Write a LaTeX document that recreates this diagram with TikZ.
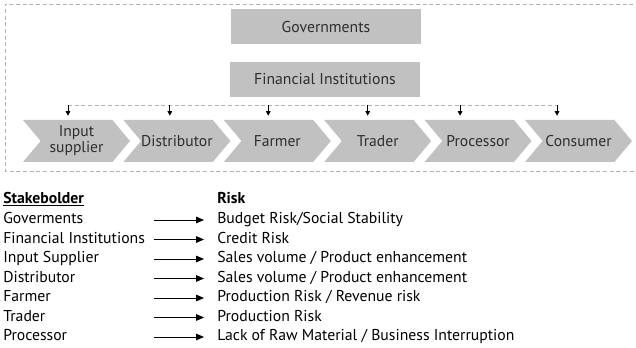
\documentclass[tikz,border=0pt]{standalone}
\usepackage{fontspec}
\setmainfont{PT Sans}
\usepackage{xcolor}
\usetikzlibrary{arrows.meta,positioning,shapes.symbols}

\definecolor{boxgray}{HTML}{C1C1C1}
\definecolor{linegray}{HTML}{B4B4B4}
\definecolor{textgray}{HTML}{2E2E2E}

\begin{document}
\begin{tikzpicture}[
  x=0.75pt,y=-0.75pt,
  on grid,
  font=\fontsize{11.8}{13}\selectfont,
  every node/.style={text=textgray},
  box/.style={fill=boxgray,minimum width=142.5pt,minimum height=26.25pt,inner sep=0pt},
  stage/.style={signal,signal from=west,signal to=east,signal pointer angle=100,
    fill=boxgray,minimum width=80.25pt,minimum height=31.5pt,inner sep=0pt,
    align=center,font=\fontsize{11.7}{12}\selectfont},
  dashline/.style={draw=linegray,dash pattern=on 3pt off 2pt,line width=0.6pt},
  drop/.style={-{Triangle[length=3.5pt,width=3.5pt]},line width=0.6pt},
  link/.style={-{Triangle[length=6pt,width=5pt]},line width=0.6pt},
  row/.style={anchor=west,inner sep=0pt,text height=8pt,text depth=2.5pt,text=black},
  head/.style={row,font=\fontsize{11.8}{13}\selectfont\bfseries}]
  \useasboundingbox (0,0) rectangle (636,348);
  % outer dashed frame, open on the right
  \draw[dashline] (640,4) -- (5,4) -- (5,171) -- (640,171);
  % g-governments f-financial institutions
  \node[box] (g) at (326,26.5) {Governments};
  \node[box] (f) [below=39.75pt of g, xshift=-0.75pt] {Financial Institutions};
  % value chain
  \node[stage] (in)  at (76.5,141) {Input\\supplier};
  \node[stage] (dis) [right=75.3pt of in]  {Distributor};
  \node[stage] (far) [right=75.3pt of dis] {Farmer};
  \node[stage] (tra) [right=75.3pt of far] {Trader};
  \node[stage] (pro) [right=75.3pt of tra] {Processor};
  \node[stage] (con) [right=75.3pt of pro] {Consumer};
  % dashed bus with drops onto every stage
  \coordinate (bus) at (0,105);
  \draw[dashline] (68,105) -- (557,105);
  \foreach \s/\dx in {in/-6.4,dis/-5.3,far/-6.8,tra/-7.5,pro/-13.5,con/-16.1}
    \draw[drop] ([xshift=\dx pt]\s.north |- bus) -- ([xshift=\dx pt,yshift=3pt]\s.north);
  % stakeholder / risk table
  \node[head] (sh) at (3,200) {\underline{Stakebolder}};
  \node[head] (rh) at (217,200) {Risk};
  \node[row] (s1) at (3,220) {Goverments};
  \node[row] (s2) at (3,239.5) {Financial Institutions};
  \node[row] (s3) at (3,259) {Input Supplier};
  \node[row] (s4) at (3,278.5) {Distributor};
  \node[row] (s5) at (3,298) {Farmer};
  \node[row] (s6) at (3,317.5) {Trader};
  \node[row] (s7) at (3,337) {Processor};
  \node[row] (r1) at (217,220) {Budget Risk/Social Stability};
  \node[row] (r2) at (217,239.5) {Credit Risk};
  \node[row] (r3) at (217,259) {Sales volume / Product enhancement};
  \node[row] (r4) at (217,278.5) {Sales volume / Product enhancement};
  \node[row] (r5) at (217,298) {Production Risk / Revenue risk};
  \node[row] (r6) at (217,317.5) {Production Risk};
  \node[row] (r7) at (217,337) {Lack of Raw Material / Business Interruption};
  \coordinate (tail) at (154,0);
  \coordinate (tip) at (204,0);
  \foreach \i in {1,...,7}
    \draw[link] (s\i.west -| tail) -- (r\i.west -| tip);
\end{tikzpicture}
\end{document}
